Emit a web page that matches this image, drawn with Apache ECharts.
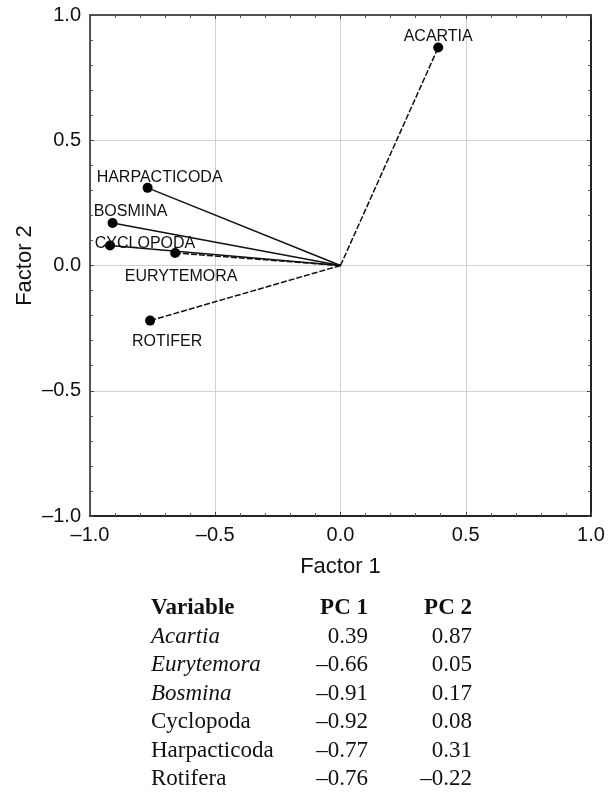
<!DOCTYPE html>
<html><head><meta charset="utf-8">
<script src="https://cdn.jsdelivr.net/npm/echarts@6/dist/echarts.min.js"></script>
<style>html,body{margin:0;padding:0;background:#fff}#c{width:613px;height:797px}</style>
</head><body><div id="c"></div>
<script>
// ---- data ----
const variables = ['Acartia', 'Eurytemora', 'Bosmina', 'Cyclopoda', 'Harpacticoda', 'Rotifera'];
const italicNames = [true, true, true, false, false, false];
const plotLabels = ['ACARTIA', 'EURYTEMORA', 'BOSMINA', 'CYCLOPODA', 'HARPACTICODA', 'ROTIFER'];
const pc1 = [0.39, -0.66, -0.91, -0.92, -0.77, -0.76];
const pc2 = [0.87, 0.05, 0.17, 0.08, 0.31, -0.22];
const dashedLine = [true, true, false, false, false, true];
const tableHeader = ['Variable', 'PC 1', 'PC 2'];
const xAxisName = 'Factor 1';
const yAxisName = 'Factor 2';

// ---- styling (kept apart from data) ----
const labelOffsets = [[0, -11], [6, 24], [18, -11], [35, -2], [12, -10], [17, 21]];
const ink = '#111';
const fmt = v => (v < 0 ? '\u2013' : '') + Math.abs(v).toFixed(1);
const fmt2 = v => (v < 0 ? '\u2013' : '') + Math.abs(v).toFixed(2);

function axisCommon(showLabels, position) {
  return {
    type: 'value', min: -1, max: 1, interval: 0.5, position: position,
    axisLine: { show: true, onZero: false, lineStyle: { color: '#222', width: (position === 'bottom' || position === 'right') ? 2 : 1.5 } },
    axisTick: { show: true, inside: true, length: 4, lineStyle: { color: '#444' } },
    minorTick: { show: true, splitNumber: 5, length: 3, lineStyle: { color: '#555' } },
    axisLabel: { show: showLabels, formatter: fmt, fontSize: 20, fontFamily: 'Liberation Sans', color: ink, margin: 9 },
    splitLine: { show: showLabels, lineStyle: { color: '#d2d2d2', width: 1 } }
  };
}

const series = variables.map((name, i) => ({
  type: 'line', name: name, xAxisIndex: 0, yAxisIndex: 0,
  silent: true, animation: false,
  lineStyle: { color: ink, width: 1.5, type: dashedLine[i] ? [6, 2] : 'solid' },
  itemStyle: { color: '#000' },
  data: [
    { value: [0, 0], symbol: 'none' },
    {
      value: [pc1[i], pc2[i]], symbol: 'circle', symbolSize: 10,
      label: {
        show: true, formatter: plotLabels[i], position: 'inside',
        offset: labelOffsets[i], align: 'center', verticalAlign: 'middle',
        fontSize: 16, fontFamily: 'Liberation Sans', color: ink
      }
    }
  ]
}));

// ---- table as text ----
const rowY0 = 608, rowStep = 28.5;
const colVarX = 151, colPc1X = 368, colPc2X = 472;
const tfont = { fontSize: 23, fontFamily: 'Liberation Serif', fill: ink };
const graphics = [];
[[tableHeader[0], colVarX, 'left'], [tableHeader[1], colPc1X, 'right'], [tableHeader[2], colPc2X, 'right']].forEach(h => {
  graphics.push({ type: 'text', x: h[1], y: rowY0, silent: true,
    style: Object.assign({ text: h[0], fontWeight: 'bold', align: h[2], verticalAlign: 'middle' }, tfont) });
});
variables.forEach((v, i) => {
  const y = rowY0 + rowStep * (i + 1);
  graphics.push({ type: 'text', x: colVarX, y: y, silent: true,
    style: Object.assign({ text: v, fontStyle: italicNames[i] ? 'italic' : 'normal', align: 'left', verticalAlign: 'middle' }, tfont) });
  graphics.push({ type: 'text', x: colPc1X, y: y, silent: true,
    style: Object.assign({ text: fmt2(pc1[i]), align: 'right', verticalAlign: 'middle' }, tfont) });
  graphics.push({ type: 'text', x: colPc2X, y: y, silent: true,
    style: Object.assign({ text: fmt2(pc2[i]), align: 'right', verticalAlign: 'middle' }, tfont) });
});

const xb = axisCommon(true, 'bottom');
Object.assign(xb, { name: xAxisName, nameLocation: 'middle', nameGap: 40, nameMoveOverlap: false,
  nameTextStyle: { fontSize: 22, fontFamily: 'Liberation Sans', color: ink } });
const yl = axisCommon(true, 'left');
Object.assign(yl, { name: yAxisName, nameLocation: 'middle', nameGap: 54, nameMoveOverlap: false,
  nameTextStyle: { fontSize: 22, fontFamily: 'Liberation Sans', color: ink } });

const chart = echarts.init(document.getElementById('c'), null, { renderer: 'canvas' });
chart.setOption({
  backgroundColor: '#fff',
  animation: false,
  grid: { left: 90, right: 22, top: 15, bottom: 281, containLabel: false },
  xAxis: [xb, axisCommon(false, 'top')],
  yAxis: [yl, axisCommon(false, 'right')],
  series: series,
  graphic: graphics
});
</script>
</body></html>
